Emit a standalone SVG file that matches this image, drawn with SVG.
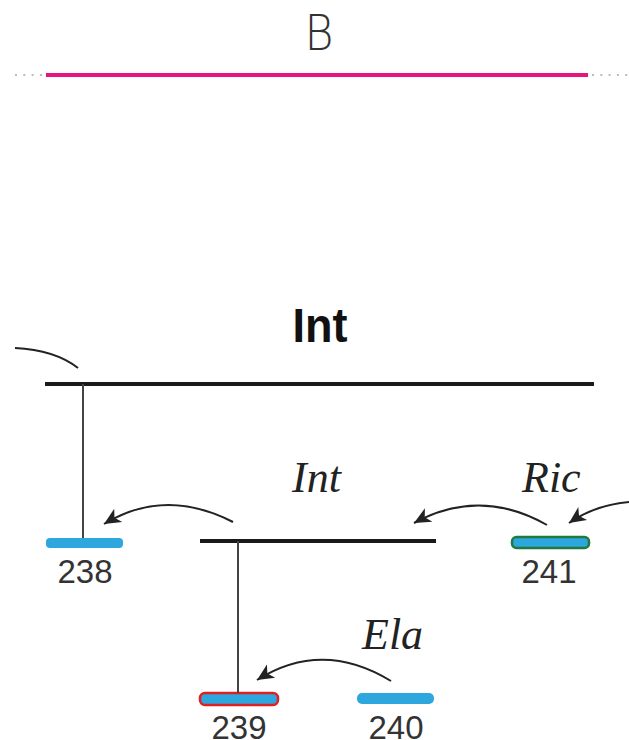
<svg xmlns="http://www.w3.org/2000/svg" width="629" height="740" viewBox="0 0 629 740">
<style>
.bar{stroke:#1a1a1a;stroke-width:4;stroke-linecap:butt}
.stem{stroke:#444;stroke-width:2}
.conn{fill:none;stroke:#222;stroke-width:2}
.num{font-family:"Liberation Sans",Arial,sans-serif;font-size:33px;fill:#333;text-anchor:middle}
.it{font-family:"Liberation Serif","Times New Roman",serif;font-style:italic;font-size:44px;fill:#222}
.seg{fill:#2ea6de}
.dots{stroke:#bbb;stroke-width:2.2;stroke-dasharray:2 6.3}
</style>
<defs>
<marker id="ah" markerUnits="userSpaceOnUse" markerWidth="20" markerHeight="20" viewBox="-16 -8 18 16" refX="0" refY="0" orient="auto">
<path d="M0,0 L-15,-7 L-11,0 L-15,7 Z" fill="#222"/>
</marker>
</defs>
<rect width="629" height="740" fill="#fff"/>
<g id="title">
<text x="319" y="50" font-family="'DejaVu Sans',sans-serif" font-weight="200" font-size="49" fill="#333" text-anchor="middle" textLength="29" lengthAdjust="spacingAndGlyphs">B</text>
<line class="dots" x1="15" y1="75" x2="44" y2="75"/>
<line x1="46" y1="75" x2="588" y2="75" stroke="#e5177e" stroke-width="4"/>
<line class="dots" x1="592" y1="75" x2="629" y2="75"/>
</g>
<g id="int-top">
<text x="320" y="342" font-family="'Liberation Sans',Arial,sans-serif" font-weight="bold" font-size="48" fill="#111" text-anchor="middle" textLength="55" lengthAdjust="spacingAndGlyphs">Int</text>
<line class="bar" x1="45" y1="384" x2="594" y2="384"/>
</g>
<g id="int-mid">
<text class="it" x="292" y="492">Int</text>
<line class="bar" x1="200" y1="541" x2="436" y2="541"/>
</g>
<g id="n238">
<rect class="seg" x="46" y="538" width="77" height="10" rx="4"/>
<text class="num" x="85" y="583">238</text>
</g>
<g id="n241">
<rect class="seg" x="512" y="537" width="77" height="11" rx="4.5" stroke="#1f7a3c" stroke-width="2.5"/>
<text class="num" x="549" y="583">241</text>
<text class="it" x="522" y="492">Ric</text>
</g>
<g id="n239">
<rect class="seg" x="200" y="693" width="78" height="12" rx="5" stroke="#e02020" stroke-width="2.5"/>
<text class="num" x="239" y="739">239</text>
</g>
<g id="n240">
<rect class="seg" x="357" y="693" width="77" height="11" rx="5"/>
<text class="num" x="396" y="739">240</text>
<text class="it" x="362" y="649">Ela</text>
</g>
<g id="connectors">
<path class="conn" d="M15,348 Q55,350 78,368"/>
<line class="stem" x1="83" y1="384" x2="83" y2="538"/>
<line class="stem" x1="238" y1="541" x2="238" y2="693"/>
<path class="conn" d="M233,522 Q165,487 104,524" marker-end="url(#ah)"/>
<path class="conn" d="M547,525 Q480,487 414,523" marker-end="url(#ah)"/>
<path class="conn" d="M629,502 Q595,505 569,523" marker-end="url(#ah)"/>
<path class="conn" d="M391,681 Q322,639 257,680" marker-end="url(#ah)"/>
</g>
</svg>
